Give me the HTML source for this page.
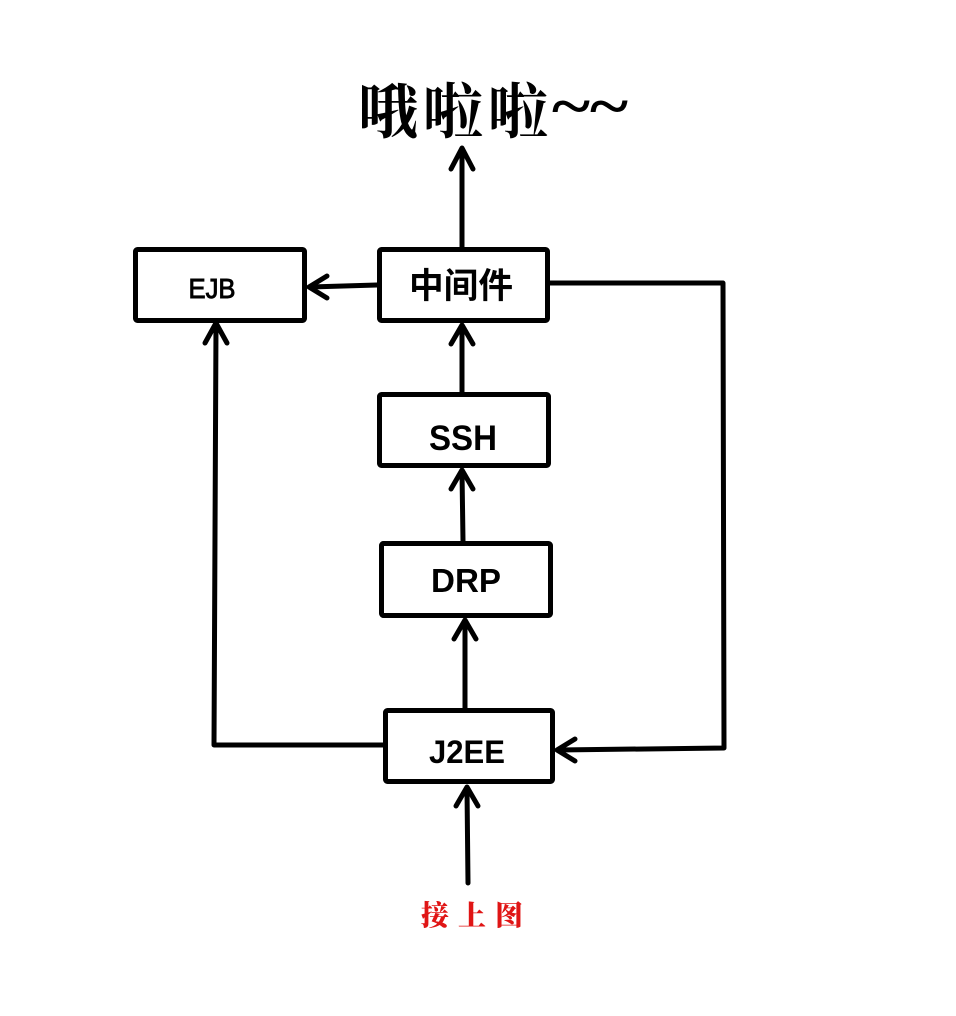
<!DOCTYPE html>
<html>
<head>
<meta charset="utf-8">
<style>
  html, body { margin:0; padding:0; background:#fff; }
  body { width:956px; height:1016px; overflow:hidden; }
  svg { display:block; }
</style>
</head>
<body>
<svg width="956" height="1016" viewBox="0 0 956 1016" xmlns="http://www.w3.org/2000/svg">
  <rect x="0" y="0" width="956" height="1016" fill="#fff"/>

  <!-- Title -->
  <text x="358" y="133" font-family="'Noto Serif CJK SC', 'WenQuanYi Zen Hei', serif" font-weight="700" font-size="60" fill="#000" textLength="190" lengthAdjust="spacing">哦啦啦</text>
  <text x="552" y="126" font-family="'Liberation Serif', serif" font-weight="bold" font-size="60" fill="#000" textLength="76" lengthAdjust="spacingAndGlyphs">~~</text>

  <g fill="none" stroke="#000" stroke-width="5" stroke-linecap="round" stroke-linejoin="round">
    <!-- Boxes -->
    <rect x="135.5" y="249.5" width="169" height="71" rx="2"/>
    <rect x="379.5" y="249.5" width="168" height="71" rx="2"/>
    <rect x="379.5" y="394.5" width="169" height="71" rx="2"/>
    <rect x="381.5" y="543.5" width="169" height="72" rx="2"/>
    <rect x="385.5" y="710.5" width="167" height="71" rx="2"/>

    <!-- Top arrow -->
    <line x1="462" y1="247" x2="462" y2="150"/>
    <polyline points="451,169 462,148 473,169"/>

    <!-- 中间件 -> EJB -->
    <line x1="377" y1="285" x2="310" y2="287"/>
    <polyline points="327,276 309,287 327,298"/>

    <!-- 中间件 right loop -> J2EE -->
    <polyline points="550,283 723,283 724,748 558,750"/>
    <polyline points="575,739 557,750 575,761"/>

    <!-- J2EE left -> EJB -->
    <polyline points="383,745 214,745 216,325"/>
    <polyline points="205,343 216,323 227,343"/>

    <!-- SSH -> 中间件 -->
    <line x1="462" y1="392" x2="462" y2="327"/>
    <polyline points="451,344 462,325 473,344"/>

    <!-- DRP -> SSH -->
    <line x1="463" y1="541" x2="462" y2="472"/>
    <polyline points="451,489 462,470 473,489"/>

    <!-- J2EE -> DRP -->
    <line x1="465" y1="708" x2="465" y2="622"/>
    <polyline points="454,639 465,620 476,639"/>

    <!-- bottom -> J2EE -->
    <line x1="468" y1="883" x2="467" y2="789"/>
    <polyline points="456,806 467,787 478,806"/>
  </g>

  <!-- Labels -->
  <text x="212" y="298" text-anchor="middle" font-family="'Liberation Sans', sans-serif" font-size="28" fill="#000" textLength="47" lengthAdjust="spacingAndGlyphs" stroke="#000" stroke-width="0.9">EJB</text>
  <text x="461" y="298" text-anchor="middle" font-family="'Noto Sans CJK SC', 'WenQuanYi Zen Hei', sans-serif" font-weight="bold" font-size="35" fill="#000" textLength="104" lengthAdjust="spacingAndGlyphs">中间件</text>
  <text x="463" y="450" text-anchor="middle" font-family="'Liberation Sans', sans-serif" font-weight="bold" font-size="35" fill="#000" textLength="68" lengthAdjust="spacingAndGlyphs">SSH</text>
  <text x="466" y="592" text-anchor="middle" font-family="'Liberation Sans', sans-serif" font-weight="bold" font-size="33" fill="#000" textLength="70" lengthAdjust="spacingAndGlyphs">DRP</text>
  <text x="467" y="763" text-anchor="middle" font-family="'Liberation Sans', sans-serif" font-weight="bold" font-size="32" fill="#000" textLength="76" lengthAdjust="spacingAndGlyphs">J2EE</text>

  <!-- Red text -->
  <text x="421" y="925" font-family="'Noto Serif CJK SC', 'WenQuanYi Zen Hei', serif" font-weight="900" font-size="28" fill="#e01515" textLength="102" lengthAdjust="spacing">接上图</text>
</svg>
</body>
</html>
